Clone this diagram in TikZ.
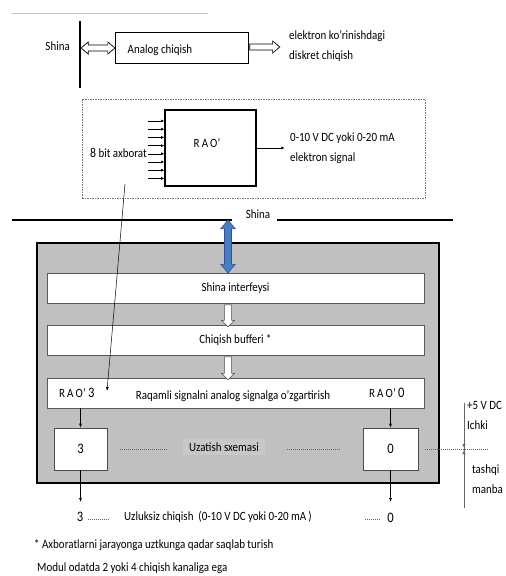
\documentclass[tikz,border=0pt]{standalone}
\usepackage{fontspec}
\setmainfont{Carlito}[FakeStretch=0.87]
\usetikzlibrary{arrows.meta,shapes.arrows,calc}
\definecolor{olivel}{RGB}{200,202,150}
\definecolor{boxgray}{RGB}{192,192,192}
\definecolor{lblgray}{RGB}{200,200,200}
\definecolor{bluef}{RGB}{74,126,196}
\definecolor{blued}{RGB}{47,82,143}
\newcommand\bigdg{\fontsize{14.5}{16}\selectfont}
\newcommand\normdg{\fontsize{12.6}{14}\selectfont}
\begin{document}
\begin{tikzpicture}[x=1pt,y=-1pt,
  font=\normdg,
  txt/.style={inner sep=0pt},
  bigd/.style={font=\bigdg},
  hollowlr/.style={double arrow, draw, fill=white, inner sep=2.6pt, double arrow head extend=3pt, double arrow tip angle=80, line width=0.7pt},
  hollowr/.style={single arrow, draw, fill=white, inner sep=2.6pt, single arrow head extend=3pt, single arrow tip angle=80, line width=0.7pt},
  hollowd/.style={single arrow, draw=black!70, fill=white, inner sep=3.3pt, single arrow head extend=2.8pt, single arrow tip angle=90, line width=0.6pt, shape border rotate=270},
  inbox/.style={draw=black!65, line width=0.6pt, fill=white, minimum width=377, minimum height=30, inner sep=0pt},
  chbox/.style={draw=black!70, line width=0.7pt, fill=white, minimum height=42, inner sep=0pt},
  arr/.style={-{Latex[length=4pt,width=3pt]}, line width=0.6pt},
  dots/.style={black!60, dash pattern=on 1pt off 1pt, line width=0.6pt}
]
\useasboundingbox (0,0) rectangle (506,576);

% top decorative line
\draw[olivel, line width=1pt] (12,13) -- (208,13);

% top: Shina - Analog chiqish
\coordinate (bt) at (80,21);
\coordinate (bb) at (80,88);
\draw[line width=1.3pt] (bt) -- (bb);
\node[txt, anchor=east] (shina1) at (70,46) {Shina};
\node[draw, line width=0.7pt, minimum width=133, minimum height=31, inner sep=0pt] (an) at (181.5,47.5) {};
\node[txt] (antxt) at (160,50) {Analog chiqish};
\node[hollowlr, minimum height=34, minimum width=12] (dlr) at (98,48) {};
\node[hollowr, minimum height=30, minimum width=12] (sr) at (263,47) {};
\node[txt, anchor=west] (el1) at (289,36) {elektron ko'rinishdagi};
\node[txt, anchor=west] (el2) at (289,56) {diskret chiqish};

% dashed box with RAO'
\node[draw=black!55, dash pattern=on 1.5pt off 1pt, line width=0.6pt, minimum width=343, minimum height=99, inner sep=0pt] (dbox) at (253.5,148.5) {};
\node[draw, line width=1.6pt, minimum width=91, minimum height=76, inner sep=0pt] (rao) at (210.5,148) {};
\node[txt] (raotxt) at (207,143) {R\,A\,O'};
\foreach \i in {0,...,7}{
  \coordinate (in\i) at (148,{121+\i*8.2});
  \draw[-{Latex[length=3pt,width=3pt]}, line width=0.6pt] (in\i) -- (in\i -| rao.west);
}
\node[txt, anchor=east] (bit) at (147,153) {{\fontsize{13.5}{15}\selectfont 8} bit axborat};
\coordinate (out) at (285,148);
\draw[arr] (rao.east) -- (out);
\node[txt, anchor=west] (o1) at (290,138) {0-10 V DC yoki 0-20 mA};
\node[txt, anchor=west] (o2) at (290,158) {elektron signal};

% Shina bus line
\coordinate (sl1) at (12,220);
\coordinate (sl2) at (232,220);
\coordinate (sr1) at (277,220);
\coordinate (sr2) at (453,220);
\draw[line width=1.6pt] (sl1) -- (sl2);
\draw[line width=1.6pt] (sr1) -- (sr2);
\node[txt] (shina2) at (258,214) {Shina};

% module
\node[draw, line width=1.8pt, fill=boxgray, minimum width=402, minimum height=240, inner sep=0pt] (mod) at (238,363) {};
\node[inbox] (si) at (235.5,288) {Shina interfeysi};
\node[inbox] (cb) at (235.5,340) {Chiqish bufferi *};
\node[inbox] (rq) at (235.5,393) {};
\node[txt] (rqtxt) at (233,396) {Raqamli signalni analog signalga o'zgartirish};
\node[txt, anchor=west] (rao3) at (59,393) {R\,A\,O' {\bigdg 3}};
\node[txt, anchor=west] (rao0) at (369,393) {R\,A\,O' {\bigdg 0}};

% blue bus arrow
\node[double arrow, draw=blued, fill=bluef, line width=0.6pt, rotate=90, inner sep=3.2pt, double arrow head extend=3.8pt, double arrow tip angle=80, minimum height=53] (blue) at (228,246.5) {};

% hollow down arrows
\node[hollowd, minimum height=22] (h1) at (228,314) {};
\node[hollowd, minimum height=23] (h2) at (228,366.5) {};

% channel boxes
\node[chbox, minimum width=53] (b3) at (80.5,449) {\bigdg 3};
\node[chbox, minimum width=55] (b0) at (390.5,449) {\bigdg 0};
\draw[arr] (b3.north |- rq.south) -- (b3.north);
\draw[arr] (b0.north |- rq.south) -- (b0.north);
\node[txt, fill=lblgray, inner xsep=6pt, inner ysep=4pt] (ux) at (224,447) {Uzatish sxemasi};
\coordinate (d1a) at (120,449);
\coordinate (d1b) at (168,449);
\coordinate (d2a) at (287,449);
\coordinate (d2b) at (340,449);
\draw[dots] (d1a) -- (d1b);
\draw[dots] (d2a) -- (d2b);

% right side supply
\coordinate (vt) at (464,403);
\coordinate (vb) at (464,508);
\coordinate (vm1) at (464,448);
\coordinate (vm2) at (464,450);
\draw[black!60, line width=0.6pt] (vt) -- (vb);
\draw[-{Latex[length=4pt,width=3.5pt]}, line width=0.6pt, black!60] (464,438) -- (vm1);
\draw[-{Latex[length=4pt,width=3.5pt]}, line width=0.6pt, black!60] (464,460) -- (vm2);
\coordinate (rd1) at (425,449);
\coordinate (rd2) at (488,449);
\draw[dots] (rd1) -- (rd2);
\node[txt, anchor=west] (p5) at (467,405) {+5 V DC};
\node[txt, anchor=west] (ich) at (467,425) {Ichki};
\node[txt, anchor=west] (tas) at (472,470) {tashqi};
\node[txt, anchor=west] (man) at (472,489) {manba};

% outputs
\coordinate (e3) at (80.5,502);
\coordinate (e0) at (390.5,502);
\draw[arr] (b3.south) -- (e3);
\draw[arr] (b0.south) -- (e0);
\node[txt, bigd] (n3) at (80,517) {3};
\draw[dots] (88,519) -- (110,519);
\node[txt, anchor=west] (uz) at (124,517) {Uzluksiz chiqish \ (0-10 V DC yoki 0-20 mA\,)};
\draw[dots] (365,519) -- (381,519);
\node[txt, bigd] (n0) at (390.5,518) {0};

% slanted pointer line
\coordinate (pt) at (125,184);
\coordinate (pb) at (107,391);
\draw[-{Latex[length=4pt,width=3pt]}, line width=0.5pt] (pt) -- (pb);

% footnotes
\node[txt, anchor=west] (f1) at (34,545) {* Axboratlarni jarayonga uztkunga qadar saqlab turish};
\node[txt, anchor=west] (f2) at (37,568) {Modul odatda 2 yoki 4 chiqish kanaliga ega};
\end{tikzpicture}
\end{document}
